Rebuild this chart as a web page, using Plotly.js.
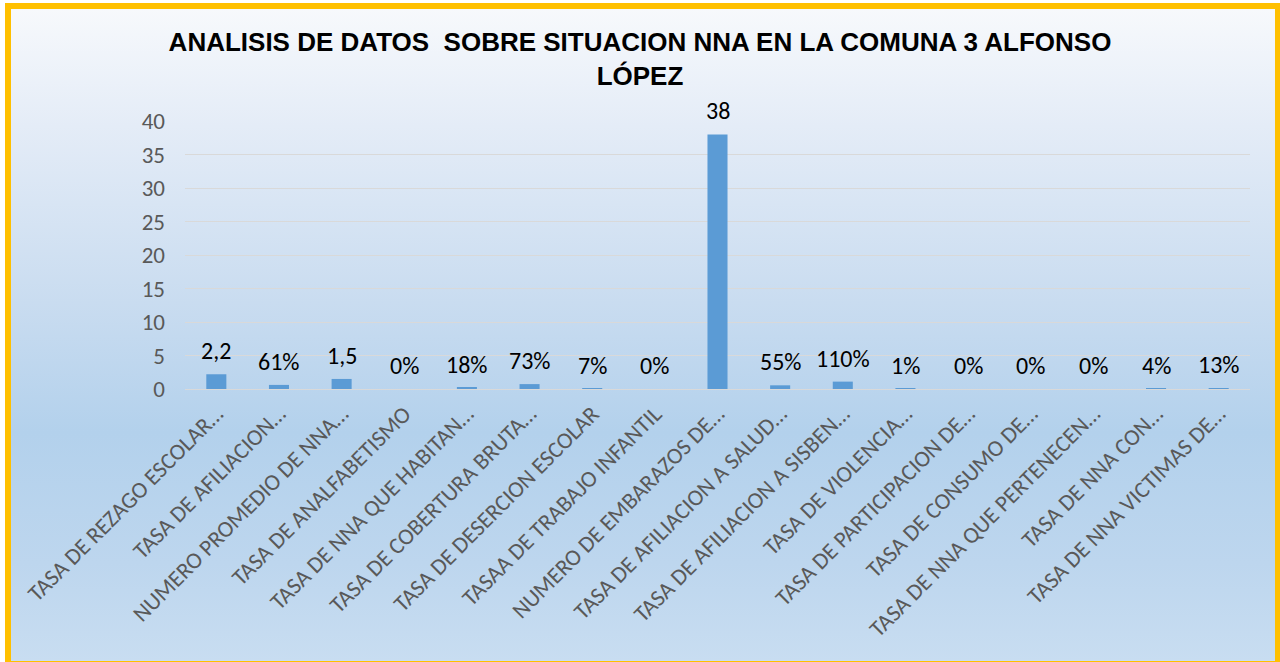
<!DOCTYPE html>
<html>
<head>
<meta charset="utf-8">
<script src="https://cdn.plot.ly/plotly-3.0.1.min.js"></script>
<style>
  html, body { margin: 0; padding: 0; width: 1280px; height: 662px; overflow: hidden; background: #ffffff; }
  #frame {
    position: absolute; left: 5px; top: 3px; width: 1264px; height: 652px;
    border: 6px solid #FFC000;
    background: linear-gradient(to bottom, #F7F9FC 0%, #E4ECF7 18%, #C9DCF0 45%, #B3D1EC 65%, #BDD6EE 85%, #C8DDF1 100%);
  }
  #chart { position: absolute; left: 0; top: 0; width: 1280px; height: 662px; }
</style>
</head>
<body>
<div id="frame"></div>
<div id="chart"></div>
<script>
const categories = [
  "TASA DE REZAGO ESCOLAR…",
  "TASA DE AFILIACION…",
  "NUMERO PROMEDIO DE NNA…",
  "TASA DE ANALFABETISMO",
  "TASA DE NNA QUE HABITAN…",
  "TASA DE COBERTURA BRUTA…",
  "TASA DE DESERCION ESCOLAR",
  "TASAA DE TRABAJO INFANTIL",
  "NUMERO DE EMBARAZOS DE…",
  "TASA DE AFILIACION A SALUD…",
  "TASA DE AFILIACION A SISBEN…",
  "TASA DE VIOLENCIA…",
  "TASA DE PARTICIPACION DE…",
  "TASA DE CONSUMO DE…",
  "TASA DE NNA QUE PERTENECEN…",
  "TASA DE NNA CON…",
  "TASA DE NNA VICTIMAS DE…"
];
const values = [2.2, 0.61, 1.5, 0, 0.18, 0.73, 0.07, 0, 38, 0.55, 1.10, 0.01, 0, 0, 0, 0.04, 0.13];
const valueLabels = ["2,2", "61%", "1,5", "0%", "18%", "73%", "7%", "0%", "38", "55%", "110%", "1%", "0%", "0%", "0%", "4%", "13%"];
const yTicks = [0, 5, 10, 15, 20, 25, 30, 35, 40];

const font = "Carlito, 'Open Sans', 'Noto Sans', sans-serif";

const trace = {
  type: "bar",
  x: categories,
  y: values,
  marker: { color: "#5B9BD5" },
  hoverinfo: "x+y"
};

const annotations = categories.map((c, i) => ({
  x: c, y: values[i], xref: "x", yref: "y",
  text: valueLabels[i], showarrow: false,
  yanchor: "bottom", yshift: 7,
  font: { family: font, size: 24, color: "#000000" }
}));

const layout = {
  width: 1280, height: 662,
  paper_bgcolor: "rgba(0,0,0,0)",
  plot_bgcolor: "rgba(0,0,0,0)",
  margin: { l: 185, r: 30, t: 121, b: 273 },
  bargap: 0.68,
  title: {
    text: "<b>ANALISIS DE DATOS  SOBRE SITUACION NNA EN LA COMUNA 3 ALFONSO<br>LÓPEZ</b>",
    font: { family: "'Liberation Sans', Arial, sans-serif", size: 26, color: "#000000" },
    x: 0.5, xanchor: "center", xref: "container",
    y: 1 - 51 / 662, yanchor: "top", yref: "container"
  },
  xaxis: {
    type: "category",
    tickangle: -45,
    tickfont: { family: font, size: 23, color: "#595959" },
    ticklabelstandoff: 6,
    showgrid: false, showline: false, ticks: "", zeroline: false,
    automargin: false
  },
  yaxis: {
    range: [0, 40],
    tickvals: yTicks,
    ticktext: yTicks.map(String),
    tickfont: { family: font, size: 23, color: "#595959" },
    ticklabelstandoff: 19,
    showgrid: true, gridcolor: "#D9D9D9", gridwidth: 1.3,
    zeroline: true, zerolinecolor: "#D9D9D9", zerolinewidth: 1.3,
    showline: false, ticks: "", ticklen: 0,
    automargin: false
  },
  annotations: annotations,
  showlegend: false
};

Plotly.newPlot("chart", [trace], layout, { displayModeBar: false, staticPlot: false });
</script>
</body>
</html>
